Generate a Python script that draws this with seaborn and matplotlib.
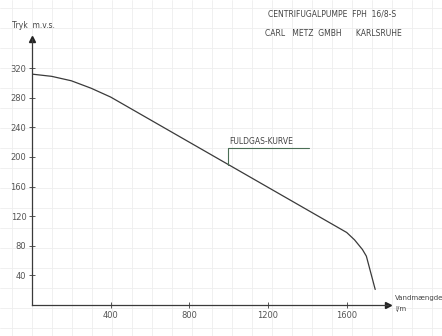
import matplotlib
matplotlib.use("Agg")
import matplotlib.pyplot as plt
import seaborn as sns
import pandas as pd
import numpy as np

# data
flow = [0, 100, 200, 300, 400, 800, 1200, 1600, 1640, 1680, 1700, 1716, 1745]
head = [312, 309, 303, 293, 281, 220, 159, 98, 88, 75, 66, 50, 21]
xticks = [400, 800, 1200, 1600]
yticks = [40, 80, 120, 160, 200, 240, 280, 320]

df = pd.DataFrame({"Q": flow, "H": head})

sns.set_theme(style="white")
plt.rcParams['font.family'] = ['DejaVu Sans']

fig = plt.figure(figsize=(4.42, 3.36), dpi=100)

# faint graph-paper background over the whole sheet
bg = fig.add_axes([0, 0, 1, 1], zorder=-1)
bg.set_xlim(0, 442)
bg.set_ylim(336, 0)
bg.axis("off")
for gx in np.arange(12, 442, 20):
    bg.axvline(gx, color="#eeeeee", lw=0.6)
for gy in np.arange(8, 336, 20):
    bg.axhline(gy, color="#eeeeee", lw=0.6)

ax = fig.add_axes([0.0724, 0.0923, 0.8054, 0.7928])
ax.set_xlim(0, 1810)
ax.set_ylim(0, 360)

sns.lineplot(data=df, x="Q", y="H", ax=ax, color="#3a3a3a", lw=0.9, sort=False)

for s in ["top", "right"]:
    ax.spines[s].set_visible(False)
for s in ["left", "bottom"]:
    ax.spines[s].set_color("#3a3a3a")
    ax.spines[s].set_linewidth(0.9)

ax.plot([0], [360], marker="^", color="#222222", ms=5, clip_on=False)
ax.plot([1810], [0], marker=">", color="#222222", ms=5, clip_on=False)

ax.set_xticks(xticks)
ax.set_yticks(yticks)
ax.set_xticklabels([str(v) for v in xticks])
ax.set_yticklabels([str(v) for v in yticks])
ax.tick_params(axis="both", direction="inout", length=4, width=0.7, colors="#555555",
               labelsize=6, pad=2, left=True, bottom=True)
ax.set_xlabel("")
ax.set_ylabel("")
ax.grid(False)
ax.patch.set_alpha(0)

# annotation leader
ax.plot([997, 997, 1410], [189, 212, 212], color="#4a6e55", lw=0.8)
ax.text(1003, 215, "FULDGAS-KURVE", fontsize=5.5, color="#444444", ha="left", va="bottom")

fig.text(12/442, 1 - 25/336, "Tryk  m.v.s.", fontsize=5.5, color="#444444", ha="left", va="center")
fig.text(332/442, 1 - 14/336, "CENTRIFUGALPUMPE  FPH  16/8-S", fontsize=5.5, color="#444444",
         ha="center", va="center")
fig.text(333/442, 1 - 34/336, "CARL   METZ  GMBH      KARLSRUHE", fontsize=5.5, color="#444444",
         ha="center", va="center")
fig.text(395/442, 1 - 298/336, "Vandmængde", fontsize=5, color="#444444", ha="left", va="center")
fig.text(395/442, 1 - 309/336, "l/m", fontsize=5, color="#444444", ha="left", va="center")

fig.savefig("out.png", dpi=100, facecolor="white")
